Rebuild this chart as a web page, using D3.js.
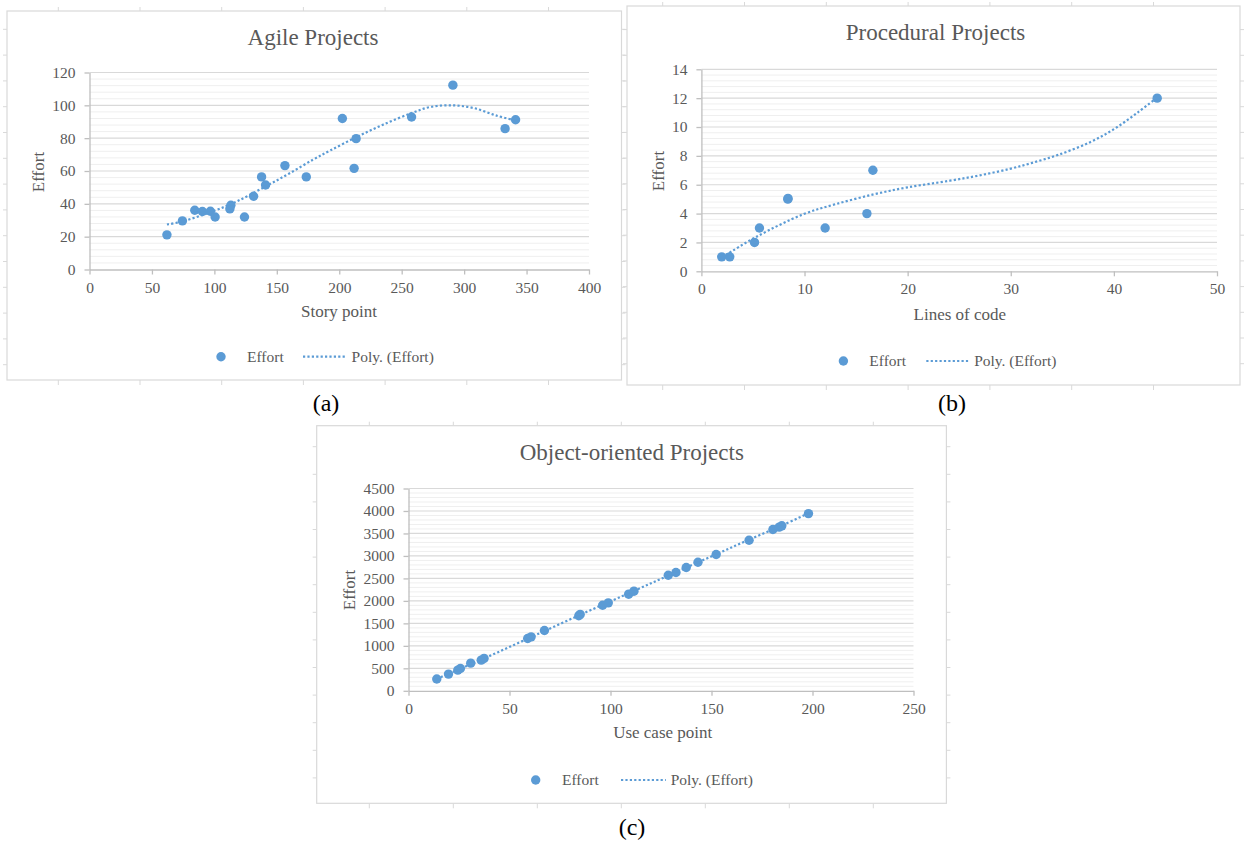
<!DOCTYPE html>
<html>
<head>
<meta charset="utf-8">
<script src="https://cdn.jsdelivr.net/npm/d3@7"></script>
<style>
    body { margin: 0; background: #fff; }
    svg text { font-family: "Liberation Serif", "Times New Roman", serif; }
</style>
</head>
<body>
<svg id="figure" width="1244" height="846"></svg>
<script>

// (a) agile projects
const agileStoryPoint = [62, 74.4, 84.3, 90.4, 96.8, 100.6, 112.4, 113.2, 124.1, 131.4, 137.8, 141, 156.5, 173.6, 202.5, 211.9, 213.5, 257.9, 291, 332.8, 341.2];
const agileEffort = [21.1, 29.6, 36.1, 35.3, 35.5, 32, 36.9, 39.1, 32, 44.6, 56.4, 51.5, 63.3, 56.4, 92, 61.6, 79.7, 92.9, 112.3, 85.8, 91.2];
const agileTrendX = [62, 74, 100, 118, 142, 160, 179, 193, 214, 235, 258, 273, 291, 308, 326, 341.2];
const agileTrendY = [27.4, 29.2, 35.8, 41.5, 51, 58.5, 66.9, 72.6, 80.7, 88.2, 95.3, 99, 100, 98.3, 93.7, 90.8];
const agileXTicks = [0, 50, 100, 150, 200, 250, 300, 350, 400];
const agileYTicks = [0, 20, 40, 60, 80, 100, 120];

// (b) procedural projects
const procLines = [1.97, 2.75, 5.15, 5.63, 8.38, 8.4, 12, 16.05, 16.63, 44.2];
const procEffort = [1, 1, 2, 3, 5, 5.05, 3, 4, 7, 12];
const procTrendX = [2, 2.43, 5.3, 9.9, 13, 16.7, 20, 24.1, 27, 29.9, 32, 34.6, 37.7, 40, 42.3, 44.2];
const procTrendY = [0.98, 1.16, 2.38, 3.96, 4.65, 5.33, 5.82, 6.28, 6.65, 7.1, 7.5, 8.07, 8.95, 9.85, 11, 12.05];
const procXTicks = [0, 10, 20, 30, 40, 50];
const procYTicks = [0, 2, 4, 6, 8, 10, 12, 14];

// (c) object-oriented projects
const ooUseCase = [14, 19.8, 24.4, 25.7, 30.8, 36, 37.4, 59, 60.7, 67.3, 84.3, 85, 96.1, 98.9, 109, 111.6, 128.6, 132.4, 137.5, 143.3, 152.3, 168.6, 180.4, 183.5, 184.8, 198];
const ooEffort = [262, 372, 461, 497, 615, 682, 720, 1164, 1200, 1342, 1670, 1700, 1904, 1956, 2149, 2216, 2571, 2631, 2742, 2860, 3031, 3349, 3587, 3640, 3670, 3942];
const ooTrendX = [14, 37, 60, 85, 110, 130, 152, 168, 185, 198];
const ooTrendY = [265, 712, 1180, 1690, 2190, 2590, 3030, 3350, 3680, 3950];
const ooXTicks = [0, 50, 100, 150, 200, 250];
const ooYTicks = [0, 500, 1000, 1500, 2000, 2500, 3000, 3500, 4000, 4500];

const blue = "#5b9bd5";
const textGray = "#595959";

const svg = d3.select("#figure");

svg.append("rect")
    .attr("width", 1244)
    .attr("height", 846)
    .attr("fill", "#fff");

//draws the little ruler marks that sit around each chart box
const drawRuler = (g, c) => {

    const f = c.frame;
    const r = c.ruler;
    const xs = d3.range(r.count).map(i => r.x0 + i * r.dx);
    const ys = d3.range(r.rows).map(i => r.y0 + i * r.dy);

    const marks = g.append("g")
        .attr("stroke", "#d9d9d9")
        .attr("stroke-width", 1);

    xs.forEach(x => {
        marks.append("line").attr("x1", x).attr("x2", x).attr("y1", f.y - 4).attr("y2", f.y);
        marks.append("line").attr("x1", x).attr("x2", x).attr("y1", f.y + f.h).attr("y2", f.y + f.h + 5);
    });

    ys.forEach(y => {
        marks.append("line").attr("x1", f.x - 4).attr("x2", f.x).attr("y1", y).attr("y2", y);
        marks.append("line").attr("x1", f.x + f.w).attr("x2", f.x + f.w + 4).attr("y1", y).attr("y2", y);
    });
}

//draws one scatter chart with its dotted polynomial trendline and legend
const drawChart = c => {

    const g = svg.append("g");
    const f = c.frame;
    const p = c.plot;

    drawRuler(g, c);

    g.append("rect")
        .attr("x", f.x)
        .attr("y", f.y)
        .attr("width", f.w)
        .attr("height", f.h)
        .attr("fill", "#fff")
        .attr("stroke", "#d9d9d9")
        .attr("stroke-width", 1.2);

    const x = d3.scaleLinear()
        .domain(d3.extent(c.xTicks))
        .range([p.left, p.right]);

    const y = d3.scaleLinear()
        .domain(d3.extent(c.yTicks))
        .range([p.bottom, p.top]);

    // minor gridlines, five steps per major
    const step = c.yTicks[1] - c.yTicks[0];
    const minor = d3.range(c.yTicks[0], d3.max(c.yTicks), step / 5)
        .filter((v, i) => i % 5 !== 0);

    g.append("g")
        .selectAll("line")
        .data(minor)
        .join("line")
        .attr("x1", p.left)
        .attr("x2", p.right)
        .attr("y1", d => y(d))
        .attr("y2", d => y(d))
        .attr("stroke", "#efefef")
        .attr("stroke-width", 1);

    g.append("g")
        .selectAll("line")
        .data(c.yTicks.slice(1))
        .join("line")
        .attr("x1", p.left)
        .attr("x2", p.right)
        .attr("y1", d => y(d))
        .attr("y2", d => y(d))
        .attr("stroke", "#d9d9d9")
        .attr("stroke-width", 1.2);

    const styleAxis = a => {
        a.select(".domain").attr("stroke", "#bfbfbf").attr("stroke-width", 1.3);
        a.selectAll(".tick line").attr("stroke", "#bfbfbf").attr("stroke-width", 1.3);
        a.selectAll("text")
            .attr("fill", textGray)
            .attr("font-size", 15.5)
            .attr("font-family", "Liberation Serif, serif");
    }

    g.append("g")
        .attr("transform", `translate(0,${p.bottom})`)
        .call(d3.axisBottom(x).tickValues(c.xTicks).tickFormat(d3.format("d")).tickSize(5).tickPadding(7).tickSizeOuter(0))
        .call(styleAxis);

    g.append("g")
        .attr("transform", `translate(${p.left},0)`)
        .call(d3.axisLeft(y).tickValues(c.yTicks).tickFormat(d3.format("d")).tickSize(5).tickPadding(9).tickSizeOuter(0))
        .call(styleAxis);

    // trendline
    const trend = d3.zip(c.trendX, c.trendY);

    g.append("path")
        .datum(trend)
        .attr("fill", "none")
        .attr("stroke", blue)
        .attr("stroke-width", 2.2)
        .attr("stroke-dasharray", "2.2,2.2")
        .attr("d", d3.line()
            .x(d => x(d[0]))
            .y(d => y(d[1]))
            .curve(d3.curveCatmullRom.alpha(0.5)));

    // points
    g.append("g")
        .attr("fill", blue)
        .selectAll("circle")
        .data(d3.zip(c.xs, c.ys))
        .join("circle")
        .attr("cx", d => x(d[0]))
        .attr("cy", d => y(d[1]))
        .attr("r", 4.7);

    // titles
    g.append("text")
        .attr("x", c.title.x)
        .attr("y", c.title.y)
        .attr("text-anchor", "middle")
        .attr("fill", textGray)
        .attr("font-size", 23)
        .text(c.title.text);

    g.append("text")
        .attr("x", c.xTitle.x)
        .attr("y", c.xTitle.y)
        .attr("text-anchor", "middle")
        .attr("fill", textGray)
        .attr("font-size", 17)
        .text(c.xTitle.text);

    g.append("text")
        .attr("transform", `translate(${c.yTitle.x},${c.yTitle.y}) rotate(-90)`)
        .attr("text-anchor", "middle")
        .attr("dy", "0.35em")
        .attr("fill", textGray)
        .attr("font-size", 17)
        .text("Effort");

    // legend
    const l = c.legend;

    g.append("circle")
        .attr("cx", l.marker)
        .attr("cy", l.y)
        .attr("r", 4.7)
        .attr("fill", blue);

    g.append("text")
        .attr("x", l.effort)
        .attr("y", l.y)
        .attr("dy", "0.35em")
        .attr("fill", textGray)
        .attr("font-size", 15.5)
        .text("Effort");

    g.append("line")
        .attr("x1", l.line[0])
        .attr("x2", l.line[1])
        .attr("y1", l.y)
        .attr("y2", l.y)
        .attr("stroke", blue)
        .attr("stroke-width", 2.2)
        .attr("stroke-dasharray", "2.2,2.2");

    g.append("text")
        .attr("x", l.poly)
        .attr("y", l.y)
        .attr("dy", "0.35em")
        .attr("fill", textGray)
        .attr("font-size", 15.5)
        .text("Poly. (Effort)");

    // caption under the box
    svg.append("text")
        .attr("x", c.caption.x)
        .attr("y", c.caption.y)
        .attr("text-anchor", "middle")
        .attr("fill", "#000")
        .attr("font-size", 24)
        .text(c.caption.text);
}

drawChart({
    xs: agileStoryPoint, ys: agileEffort,
    trendX: agileTrendX, trendY: agileTrendY,
    xTicks: agileXTicks, yTicks: agileYTicks,
    frame: {x: 7, y: 11, w: 614.5, h: 369},
    ruler: {x0: 58.3, dx: 81.7, count: 7, y0: 29.3, dy: 25.8, rows: 14},
    plot: {left: 89.5, right: 589, top: 72.5, bottom: 269.5},
    title: {x: 313, y: 45, text: "Agile Projects"},
    xTitle: {x: 339, y: 317, text: "Story point"},
    yTitle: {x: 38, y: 172},
    legend: {y: 356.7, marker: 221, effort: 247, line: [303, 346.5], poly: 351.6},
    caption: {x: 326, y: 411, text: "(a)"}
});

drawChart({
    xs: procLines, ys: procEffort,
    trendX: procTrendX, trendY: procTrendY,
    xTicks: procXTicks, yTicks: procYTicks,
    frame: {x: 627, y: 6, w: 613, h: 379},
    ruler: {x0: 662.7, dx: 81.8, count: 7, y0: 29.6, dy: 25.7, rows: 14},
    plot: {left: 701.4, right: 1217, top: 69.3, bottom: 271.3},
    title: {x: 935.5, y: 40, text: "Procedural Projects"},
    xTitle: {x: 959.8, y: 319.5, text: "Lines of code"},
    yTitle: {x: 657.9, y: 171},
    legend: {y: 361, marker: 843.4, effort: 869.3, line: [926.3, 969], poly: 974.2},
    caption: {x: 952, y: 411, text: "(b)"}
});

drawChart({
    xs: ooUseCase, ys: ooEffort,
    trendX: ooTrendX, trendY: ooTrendY,
    xTicks: ooXTicks, yTicks: ooYTicks,
    frame: {x: 316.7, y: 425.7, w: 629.7, h: 377.6},
    ruler: {x0: 369.3, dx: 84, count: 7, y0: 446.7, dy: 27.6, rows: 13},
    plot: {left: 408.5, right: 913.5, top: 488.5, bottom: 690.8},
    title: {x: 631.8, y: 460, text: "Object-oriented Projects"},
    xTitle: {x: 662.7, y: 738.3, text: "Use case point"},
    yTitle: {x: 348.6, y: 590},
    legend: {y: 780, marker: 535.7, effort: 562, line: [621, 665.8], poly: 670.7},
    caption: {x: 632, y: 835, text: "(c)"}
});

</script>
</body>
</html>
